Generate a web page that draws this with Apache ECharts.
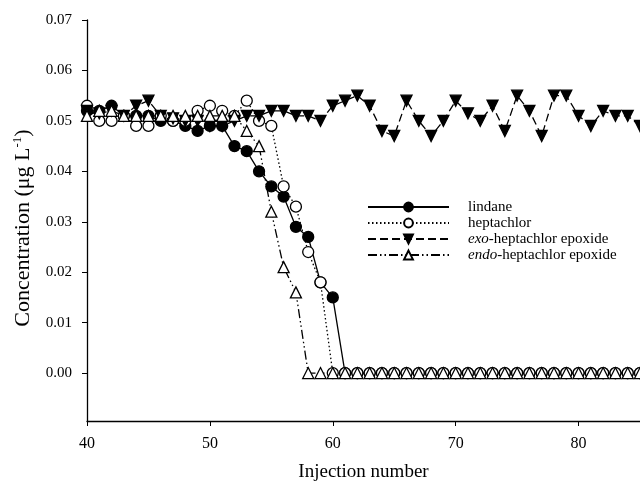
<!DOCTYPE html>
<html><head><meta charset="utf-8">
<script src="https://cdn.jsdelivr.net/npm/echarts@6/dist/echarts.min.js"></script>
<style>html,body{margin:0;padding:0;background:#fff}#c{width:640px;height:484px}</style>
</head><body><div id="c"></div>
<script>
const injection = [40,41,42,43,44,45,46,47,48,49,50,51,52,53,54,55,56,57,58,59,60,61,62,63,64,65,66,67,68,69,70,71,72,73,74,75,76,77,78,79,80,81,82,83,84,85];
const lindane = [0.052,0.052,0.053,0.051,0.051,0.051,0.050,0.050,0.049,0.048,0.049,0.049,0.045,0.044,0.040,0.037,0.035,0.029,0.027,0.018,0.015,
  0,0,0,0,0,0,0,0,0,0,0,0,0,0,0,0,0,0,0,0,0,0,0,0,0];
const heptachlor = [0.053,0.050,0.050,0.051,0.049,0.049,0.051,0.050,0.050,0.052,0.053,0.052,0.051,0.054,0.050,0.049,0.037,0.033,0.024,0.018,
  0,0,0,0,0,0,0,0,0,0,0,0,0,0,0,0,0,0,0,0,0,0,0,0,0,0];
const exoEpoxide = [0.052,0.0515,0.052,0.051,0.053,0.054,0.051,0.0505,0.050,0.050,0.049,0.049,0.050,0.051,0.051,0.052,0.052,0.051,0.051,0.050,
  0.053,0.054,0.055,0.053,0.048,0.047,0.054,0.050,0.047,0.050,0.054,0.0515,0.050,0.053,0.048,0.055,0.052,0.047,0.055,0.055,
  0.051,0.049,0.052,0.051,0.051,0.049];
const endoEpoxide = [0.051,0.052,0.052,0.051,0.051,0.051,0.051,0.051,0.051,0.051,0.051,0.051,0.051,0.048,0.045,0.032,0.021,0.016,
  0,0,0,0,0,0,0,0,0,0,0,0,0,0,0,0,0,0,0,0,0,0,0,0,0,0,0,0];
const xTicks = [40,50,60,70,80];
const yTicks = [0,0.01,0.02,0.03,0.04,0.05,0.06,0.07];
const names = ['lindane','heptachlor','exo-heptachlor epoxide','endo-heptachlor epoxide'];

const FONT = 'Liberation Serif';
const pairs = arr => arr.map((v,i)=>[injection[i], v]);
const downTri = 'path://M0,0L12,0L6,11Z';

function mk(name, data, symbol, fill, dash) {
  return {
    name, type:'line', data: pairs(data), symbol, symbolSize: 11,
    clip:false, animation:false,
    lineStyle:{color:'#000', width:1.3, type:dash},
    itemStyle:{color:fill, borderColor:'#000', borderWidth:1.3},
    emphasis:{disabled:true}
  };
}

const chart = echarts.init(document.getElementById('c'));
chart.setOption({
  animation:false,
  backgroundColor:'#fff',
  grid:{left:87, right:0, top:20, bottom:63, containLabel:false, outerBoundsMode:'none'},
  legend:{
    orient:'vertical', left:367, top:199, itemWidth:81, itemHeight:11, itemGap:0, padding:0,
    data:names,
    formatter: n => n.startsWith('exo-') ? '{i|exo}-heptachlor epoxide' : (n.startsWith('endo-') ? '{i|endo}-heptachlor epoxide' : n),
    textStyle:{fontFamily:FONT, fontSize:15, lineHeight:16, color:'#000', padding:[0,0,0,14],
      rich:{i:{fontFamily:FONT, fontSize:15, lineHeight:16, fontStyle:'italic', color:'#000'}}}
  },
  xAxis:{
    type:'value', min:40, max:85,
    axisLine:{onZero:false, lineStyle:{color:'#000', width:1.3}},
    axisTick:{show:true, inside:false, length:5, customValues:xTicks, lineStyle:{color:'#000'}},
    axisLabel:{customValues:xTicks, fontFamily:FONT, fontSize:16, color:'#000', margin:15},
    splitLine:{show:false},
    name:'Injection number', nameLocation:'middle', nameGap:42,
    nameTextStyle:{fontFamily:FONT, fontSize:19, color:'#000'}
  },
  yAxis:{
    type:'value', min:-0.0095, max:0.07,
    axisLine:{show:true, onZero:false, lineStyle:{color:'#000', width:1.3}},
    axisTick:{show:true, inside:false, length:5, customValues:yTicks, lineStyle:{color:'#000'}},
    axisLabel:{customValues:yTicks, formatter: v => v.toFixed(2), fontFamily:FONT, fontSize:15, color:'#000', margin:15},
    splitLine:{show:false},
    name:'{n|Concentration (μg L}{s|-1}{n|)}', nameLocation:'middle', nameGap:52,
    nameTextStyle:{fontFamily:FONT, fontSize:22, color:'#000', padding:[0,15,0,0],
      rich:{n:{fontFamily:FONT, fontSize:22, color:'#000', lineHeight:24},
            s:{fontFamily:FONT, fontSize:13, color:'#000', verticalAlign:'top', lineHeight:24}}}
  },
  series:[
    mk(names[0], lindane, 'circle', '#000', 'solid'),
    mk(names[1], heptachlor, 'circle', '#fff', [1.5,2.5]),
    mk(names[2], exoEpoxide, downTri, '#000', [8,4]),
    mk(names[3], endoEpoxide, 'triangle', '#fff', [9,3,1.5,3,1.5,3])
  ]
});
</script></body></html>
